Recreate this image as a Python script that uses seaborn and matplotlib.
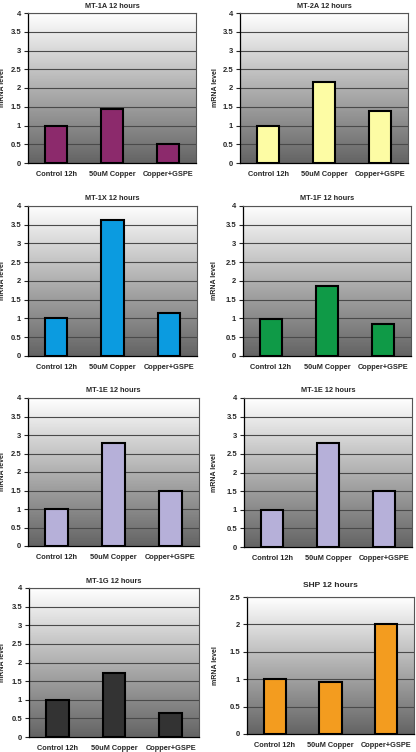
import numpy as np
import matplotlib
matplotlib.use("Agg")
import matplotlib.pyplot as plt
from matplotlib.colors import LinearSegmentedColormap
import seaborn as sns

sns.set_style("white")
plt.rcParams['font.family'] = ['Liberation Sans', 'DejaVu Sans']

categories = ["Control 12h", "50uM Copper", "Copper+GSPE"]

titles = ["MT-1A 12 hours", "MT-2A 12 hours", "MT-1X 12 hours", "MT-1F 12 hours",
          "MT-1E 12 hours", "MT-1E 12 hours", "MT-1G 12 hours", "SHP 12 hours"]

mt1a = [1.0, 1.43, 0.5]
mt2a = [1.0, 2.15, 1.38]
mt1x = [1.0, 3.62, 1.15]
mt1f = [0.98, 1.87, 0.85]
mt1e_a = [1.0, 2.78, 1.5]
mt1e_b = [1.0, 2.78, 1.5]
mt1g = [0.98, 1.72, 0.65]
shp = [1.0, 0.95, 2.0]
series = [mt1a, mt2a, mt1x, mt1f, mt1e_a, mt1e_b, mt1g, shp]

colors = ["#8c2a6c", "#fdfca4", "#0b9be0", "#0f9a47",
          "#b6b0d9", "#b6b0d9", "#333333", "#f39c1f"]
ymax = [4, 4, 4, 4, 4, 4, 4, 2.5]

# plot area boxes in pixels: left, top, right, bottom
boxes = [(28, 13, 196, 163), (240, 13, 408, 163),
         (28, 206, 197, 356), (243, 206, 411, 356),
         (28, 398, 199, 546), (244, 398, 412, 547),
         (29, 588, 199, 737), (247, 597, 414, 734)]
ylabel_x = [6, 219, 6, 218, 6, 218, 6, 219]
title_pads = [3.5, 3.5, 4, 4, 4, 4, 3.5, 7.5]

W, H = 416, 752
fig = plt.figure(figsize=(W / 100, H / 100), dpi=100)
bg = LinearSegmentedColormap.from_list("bg", ["#646464", "#b0b0b0", "#ffffff"])

for i in range(8):
    l, t, r, b = boxes[i]
    ax = fig.add_axes([l / W, 1 - b / H, (r - l) / W, (b - t) / H])
    sns.barplot(x=categories, y=series[i], ax=ax, color=colors[i], width=0.4,
                edgecolor="black", linewidth=1.5, saturation=1, zorder=3)
    ax.set_xlim(-0.5, 2.5)
    ax.set_ylim(0, ymax[i])
    # background gradient (white top -> gray bottom)
    ax.imshow(np.linspace(1, 0, 200)[:, None], extent=[-0.5, 2.5, 0, ymax[i]],
              aspect="auto", cmap=bg, zorder=0, vmin=0, vmax=1)
    ticks = np.arange(0, ymax[i] + 0.01, 0.5)
    ax.set_yticks(ticks)
    ax.set_yticklabels([f"{v:g}" for v in ticks], fontsize=5.5, fontweight="bold")
    for v in ticks[1:]:
        ax.axhline(v, color="#4a4a4a", lw=0.8, zorder=1)
    ax.set_xticks([0, 1, 2])
    ax.set_xticklabels(categories, fontsize=5.3, fontweight="bold")
    ax.set_xticks([-0.5, 0.5, 1.5, 2.5], minor=True)
    ax.tick_params(axis="x", which="major", length=0, pad=6)
    ax.tick_params(axis="x", which="minor", length=3, width=0.8, direction="out")
    ax.tick_params(axis="y", length=3, width=0.8, direction="out", pad=2, left=True)
    ax.set_ylabel("mRNA level", fontsize=5, fontweight="bold")
    ax.yaxis.set_label_coords((ylabel_x[i] - l) / (r - l), 0.5)
    ax.set_title(titles[i], fontsize=5.3 if i < 7 else 6, fontweight="bold",
                 pad=title_pads[i])
    for side in ["top", "right"]:
        ax.spines[side].set_color("#555555")
        ax.spines[side].set_linewidth(0.8)
    for side in ["left", "bottom"]:
        ax.spines[side].set_color("black")
        ax.spines[side].set_linewidth(0.9)

fig.savefig("out.png", dpi=100)
